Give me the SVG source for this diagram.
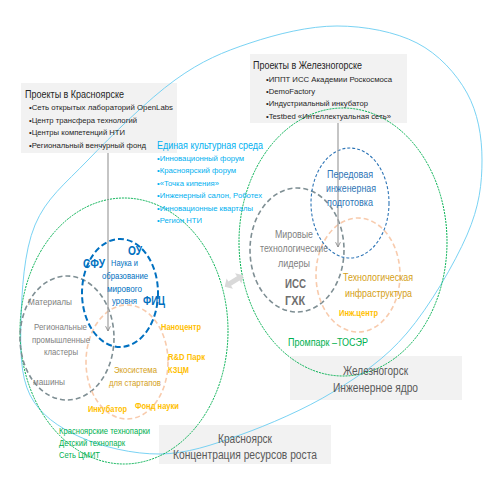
<svg xmlns="http://www.w3.org/2000/svg" width="499" height="501" viewBox="0 0 499 501">
<style>
text{font-family:"Liberation Sans Narrow","Liberation Sans",Arial,sans-serif;}
.box{fill:#F2F2F2;}
.bt{fill:#262626;font-size:10px;}
.bs{fill:#262626;font-size:8px;}
.cy{fill:#00B0F0;font-size:8px;}
.cyt{fill:#00B0F0;font-size:10px;}
.bl{fill:#0070C0;font-size:9px;}
.blb{fill:#0070C0;font-size:12px;font-weight:bold;}
.gr{fill:#7F7F7F;font-size:9px;}
.grm{fill:#7F7F7F;font-size:10px;}
.grb{fill:#6F6F6F;font-size:13px;font-weight:bold;}
.or{fill:#FFC000;font-size:9px;font-weight:bold;}
.dg{fill:#D4A017;font-size:9px;}
.dgm{fill:#D4A017;font-size:10.5px;}
.gn{fill:#00B050;font-size:8.5px;}
.gnm{fill:#00B050;font-size:10.5px;}
.blm{fill:#2E75B6;font-size:10.5px;}
.ttl{fill:#595959;font-size:12px;}
.green{fill:none;stroke:#00B050;stroke-width:1;stroke-dasharray:2 1;}
.sky{fill:none;stroke:#6ACDF2;stroke-width:0.9;}
.dgray{fill:none;stroke:#7F8F94;stroke-width:1.6;stroke-dasharray:5 3;}
.dor{fill:none;stroke:#F8CBAD;stroke-width:1.6;stroke-dasharray:5 3;}
.dbl{fill:none;stroke:#0070C0;stroke-width:2;stroke-dasharray:6 3;}
.dbl2{fill:none;stroke:#2E75B6;stroke-width:1.1;stroke-dasharray:3 2;}
.conn{stroke:#A6A6A6;stroke-width:1.3;fill:none;}
</style>
<defs>
<marker id="chev" viewBox="0 0 10 10" refX="9" refY="5" markerWidth="6" markerHeight="6" orient="auto" markerUnits="userSpaceOnUse">
<path d="M1,1 L9,5 L1,9" fill="none" stroke="#8C8C8C" stroke-width="1.5"/>
</marker>
</defs>
<rect width="499" height="501" fill="#FFFFFF"/>

<g id="box-krasnoyarsk-projects"><rect class="box" x="21" y="83" width="156" height="70"/></g>
<g id="box-zhel-projects"><rect class="box" x="250" y="54" width="157" height="69"/></g>
<g id="box-zhel-core"><rect class="box" x="290" y="356" width="172" height="44"/></g>
<g id="box-kras-core"><rect class="box" x="159" y="425" width="172" height="39"/></g>

<g id="region-outline">
<path class="sky" d="M337,26 C364.8,26 395.3,31.8 417,43 C438.7,54.2 456.2,73.5 467,93 C477.8,112.5 482,136.3 482,160 C482,183.7 479.5,206.2 467,235 C454.5,263.8 429.3,306.8 407,333 C384.7,359.2 360.8,375 333,392 C305.2,409 268.8,424.7 240,435 C211.2,445.3 186.7,453.7 160,454 C133.3,454.3 101.7,446.8 80,437 C58.3,427.2 39.8,414.5 30,395 C20.2,375.5 20.2,348.3 21,320 C21.8,291.7 23.8,251.7 35,225 C46.2,198.3 64.7,184.2 88,160 C111.3,135.8 148,99.5 175,80 C202,60.5 223,52 250,43 C277,34 309.2,26 337,26 Z"/>
</g>
<g id="kras-ellipse"><ellipse class="green" cx="124" cy="331" rx="104" ry="133"/></g>
<g id="zhel-ellipse"><ellipse class="green" cx="343" cy="242" rx="104" ry="134"/></g>
<g id="kras-materials"><ellipse class="dgray" cx="67" cy="338" rx="47" ry="62"/></g>
<g id="kras-eco"><ellipse class="dor" cx="127" cy="362" rx="41" ry="57"/></g>
<g id="kras-science"><ellipse class="dbl" cx="120" cy="293" rx="38" ry="54"/></g>
<g id="zhel-leaders"><ellipse class="dgray" cx="297" cy="250" rx="47" ry="62"/></g>
<g id="zhel-infra"><ellipse class="dor" cx="358" cy="275" rx="42" ry="57"/></g>
<g id="zhel-training"><ellipse class="dbl2" cx="350" cy="203" rx="39" ry="55"/></g>

<g id="connectors">
<line class="conn" x1="108" y1="153" x2="108" y2="331" marker-end="url(#chev)"/>
<line class="conn" x1="338" y1="123" x2="338" y2="247" marker-end="url(#chev)"/>
<polygon transform="translate(234,281) rotate(-32)" fill="#D9D9D9" points="-11,0 -5,-6 -5,-2.5 5,-2.5 5,-6 11,0 5,6 5,2.5 -5,2.5 -5,6"/>
</g>

<g id="text-kras-projects">
<text class="bt" x="25" y="98" textLength="99" lengthAdjust="spacingAndGlyphs">Проекты в Красноярске</text>
<text class="bs" x="29" y="110" textLength="144" lengthAdjust="spacingAndGlyphs">•Сеть открытых лабораторий  OpenLabs</text>
<text class="bs" x="29" y="122.5" textLength="108" lengthAdjust="spacingAndGlyphs">•Центр трансфера технологий</text>
<text class="bs" x="29" y="135" textLength="96" lengthAdjust="spacingAndGlyphs">•Центры компетенций НТИ</text>
<text class="bs" x="29" y="148" textLength="117" lengthAdjust="spacingAndGlyphs">•Региональный венчурный фонд</text>
</g>
<g id="text-zhel-projects">
<text class="bt" x="253" y="69" textLength="109" lengthAdjust="spacingAndGlyphs">Проекты в Железногорске</text>
<text class="bs" x="266" y="81.5" textLength="126" lengthAdjust="spacingAndGlyphs">•ИППТ ИСС Академии Роскосмоса</text>
<text class="bs" x="266" y="94" textLength="49" lengthAdjust="spacingAndGlyphs">•DemoFactory</text>
<text class="bs" x="266" y="106" textLength="102" lengthAdjust="spacingAndGlyphs">•Индустриальный инкубатор</text>
<text class="bs" x="266" y="118.5" textLength="125" lengthAdjust="spacingAndGlyphs">•Testbed «Интеллектуальная сеть»</text>
</g>
<g id="text-culture">
<text class="cyt" x="157" y="148.5" textLength="106" lengthAdjust="spacingAndGlyphs">Единая культурная среда</text>
<text class="cy" x="157" y="160.5" textLength="87" lengthAdjust="spacingAndGlyphs">•Инновационный форум</text>
<text class="cy" x="157" y="173" textLength="79" lengthAdjust="spacingAndGlyphs">•Красноярский форум</text>
<text class="cy" x="157" y="185.5" textLength="62" lengthAdjust="spacingAndGlyphs">•«Точка кипения»</text>
<text class="cy" x="157" y="198" textLength="105" lengthAdjust="spacingAndGlyphs">•Инженерный салон, Роботех</text>
<text class="cy" x="157" y="210.5" textLength="96" lengthAdjust="spacingAndGlyphs">•Инновационные кварталы</text>
<text class="cy" x="157" y="223" textLength="45" lengthAdjust="spacingAndGlyphs">•Регион НТИ</text>
</g>
<g id="text-science">
<text class="blb" x="128" y="255" textLength="14" lengthAdjust="spacingAndGlyphs">ОУ</text>
<text class="blb" x="83" y="268" textLength="22" lengthAdjust="spacingAndGlyphs">СФУ</text>
<text class="bl" x="111" y="266" textLength="27" lengthAdjust="spacingAndGlyphs">Наука и</text>
<text class="bl" x="102" y="279" textLength="46" lengthAdjust="spacingAndGlyphs">образование</text>
<text class="bl" x="107" y="291.5" textLength="35" lengthAdjust="spacingAndGlyphs">мирового</text>
<text class="bl" x="112" y="303.5" textLength="25" lengthAdjust="spacingAndGlyphs">уровня</text>
<text class="blb" x="143" y="305" textLength="22" lengthAdjust="spacingAndGlyphs">ФИЦ</text>
</g>
<g id="text-materials">
<text class="gr" x="28" y="304.5" textLength="44" lengthAdjust="spacingAndGlyphs">Материалы</text>
<text class="gr" x="34" y="330" textLength="53" lengthAdjust="spacingAndGlyphs">Региональные</text>
<text class="gr" x="32" y="343" textLength="58" lengthAdjust="spacingAndGlyphs">промышленные</text>
<text class="gr" x="44" y="355" textLength="34" lengthAdjust="spacingAndGlyphs">кластеры</text>
<text class="gr" x="33" y="385" textLength="32" lengthAdjust="spacingAndGlyphs">машины</text>
</g>
<g id="text-eco">
<text class="or" x="161" y="330" textLength="40" lengthAdjust="spacingAndGlyphs">Наноцентр</text>
<text class="or" x="168" y="360" textLength="37" lengthAdjust="spacingAndGlyphs">R&amp;D Парк</text>
<text class="or" x="168" y="373" textLength="21" lengthAdjust="spacingAndGlyphs">КЗЦМ</text>
<text class="dg" x="114" y="373" textLength="43" lengthAdjust="spacingAndGlyphs">Экосистема</text>
<text class="dg" x="109" y="386" textLength="52" lengthAdjust="spacingAndGlyphs">для стартапов</text>
<text class="or" x="88" y="412" textLength="39" lengthAdjust="spacingAndGlyphs">Инкубатор</text>
<text class="or" x="135" y="409" textLength="44" lengthAdjust="spacingAndGlyphs">Фонд науки</text>
</g>
<g id="text-technoparks">
<text class="gn" x="59" y="434" textLength="91" lengthAdjust="spacingAndGlyphs">Красноярские технопарки</text>
<text class="gn" x="59" y="446" textLength="66" lengthAdjust="spacingAndGlyphs">Детский технопарк</text>
<text class="gn" x="59" y="458" textLength="41" lengthAdjust="spacingAndGlyphs">Сеть ЦМИТ</text>
</g>
<g id="text-leaders">
<text class="grm" x="275" y="238" textLength="38" lengthAdjust="spacingAndGlyphs">Мировые</text>
<text class="grm" x="260" y="252" textLength="68" lengthAdjust="spacingAndGlyphs">технологические</text>
<text class="grm" x="278" y="267" textLength="32" lengthAdjust="spacingAndGlyphs">лидеры</text>
<text class="grb" x="285" y="288" textLength="21" lengthAdjust="spacingAndGlyphs">ИСС</text>
<text class="grb" x="285" y="305" textLength="20" lengthAdjust="spacingAndGlyphs">ГХК</text>
</g>
<g id="text-training">
<text class="blm" x="327" y="177.5" textLength="46" lengthAdjust="spacingAndGlyphs">Передовая</text>
<text class="blm" x="326" y="192" textLength="50" lengthAdjust="spacingAndGlyphs">инженерная</text>
<text class="blm" x="327" y="206" textLength="46" lengthAdjust="spacingAndGlyphs">подготовка</text>
</g>
<g id="text-infra">
<text class="dgm" x="343" y="281" textLength="70" lengthAdjust="spacingAndGlyphs">Технологическая</text>
<text class="dgm" x="345" y="297" textLength="67" lengthAdjust="spacingAndGlyphs">инфраструктура</text>
<text class="or" x="339" y="316" textLength="39" lengthAdjust="spacingAndGlyphs">Инж.центр</text>
</g>
<g id="text-prompark">
<text class="gnm" x="288" y="346" textLength="80" lengthAdjust="spacingAndGlyphs">Промпарк –ТОСЭР</text>
</g>
<g id="text-zhel-core">
<text class="ttl" x="343" y="375" textLength="65" lengthAdjust="spacingAndGlyphs">Железногорск</text>
<text class="ttl" x="333" y="392" textLength="85" lengthAdjust="spacingAndGlyphs">Инженерное  ядро</text>
</g>
<g id="text-kras-core">
<text class="ttl" x="218" y="443" textLength="54" lengthAdjust="spacingAndGlyphs">Красноярск</text>
<text class="ttl" x="173" y="459" textLength="144" lengthAdjust="spacingAndGlyphs">Концентрация  ресурсов  роста</text>
</g>
</svg>
